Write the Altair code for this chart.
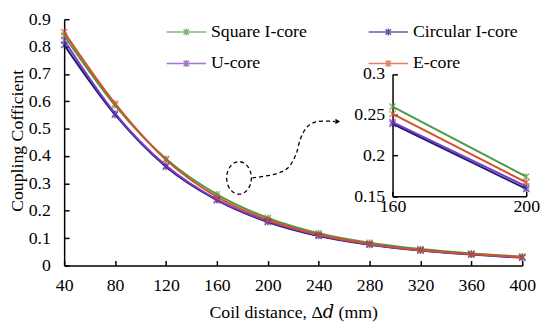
import altair as alt
import pandas as pd

# ---- data ----
distance = [40, 80, 120, 160, 200, 240, 280, 320, 360, 400]
square_i = [0.840, 0.585, 0.390, 0.260, 0.174, 0.118, 0.083, 0.060, 0.044, 0.033]
circular_i = [0.806, 0.551, 0.361, 0.239, 0.159, 0.108, 0.076, 0.055, 0.040, 0.029]
u_core = [0.823, 0.556, 0.365, 0.241, 0.162, 0.110, 0.077, 0.056, 0.041, 0.030]
e_core = [0.853, 0.592, 0.386, 0.251, 0.167, 0.113, 0.079, 0.057, 0.042, 0.031]
# legend is filled column by column: this order gives rows (Square, Circular), (U, E)
series = ["Square I-core", "U-core", "Circular I-core", "E-core"]
colors = ["#4F9A45", "#7B3BBE", "#1C1C78", "#D4512B"]

x_ticks = [40, 80, 120, 160, 200, 240, 280, 320, 360, 400]
y_ticks = [0.0, 0.1, 0.2, 0.3, 0.4, 0.5, 0.6, 0.7, 0.8, 0.9]
inset_x_ticks = [160, 200]
inset_y_ticks = [0.15, 0.2, 0.25, 0.3]

# annotation (dashed ellipse + dashed arrow) in data units
ellipse_x = [177.4]
ellipse_y = [0.320]
arrow_x = [187.9, 206.5, 215.7, 221.9, 225.8, 231.2, 239.0, 253.0]
arrow_y = [0.320, 0.335, 0.356, 0.403, 0.464, 0.508, 0.526, 0.526]
arrow_tip_x = [255.0]
arrow_tip_y = [0.526]

FONT = "Times New Roman, Liberation Serif, DejaVu Serif, serif"
FS = 18
W, H = 465, 250
INSET_X_RANGE = [333.3, 469.0]
INSET_Y_RANGE = [179.7, 55.7]

rows = []
for name, vals in zip(["Square I-core", "Circular I-core", "U-core", "E-core"],
                      [square_i, circular_i, u_core, e_core]):
    for d, k in zip(distance, vals):
        rows.append({"d": d, "k": k, "core": name})
df = pd.DataFrame(rows)
df_inset = df[df["d"].isin(inset_x_ticks)]

ell_df = pd.DataFrame({"d": ellipse_x, "k": ellipse_y})
arr_df = pd.DataFrame({"d": arrow_x, "k": arrow_y, "o": list(range(len(arrow_x)))})
tip_df = pd.DataFrame({"d": arrow_tip_x, "k": arrow_tip_y})

star = "M-1,-1L1,1M-1,1L1,-1M0,-1.1L0,1.1"
legend_sym = "M-1,0L1,0M-0.14,-0.14L0.14,0.14M-0.14,0.14L0.14,-0.14M0,-0.18L0,0.18"
ellipse_path = "M-0.76,0A0.76,1 0 1,0 0.76,0A0.76,1 0 1,0 -0.76,0Z"

color_scale = alt.Scale(domain=series, range=colors)
color = alt.Color(
    "core:N",
    scale=color_scale,
    legend=alt.Legend(
        orient="none", legendX=103, legendY=-8, columns=2, columnPadding=59,
        rowPadding=2, symbolType=legend_sym, symbolSize=1600,
        symbolStrokeWidth=1.5, labelFontSize=FS, labelFont=FONT,
        labelColor="black", labelOffset=4, title=None,
    ),
)

main_x_scale = alt.Scale(domain=[40, 400], nice=False, zero=False)
main_y_scale = alt.Scale(domain=[0, 0.9], nice=False, zero=False)

x_main = alt.X(
    "d:Q", scale=main_x_scale,
    axis=alt.Axis(
        values=x_ticks, ticks=False, grid=False, labelPadding=11,
        labelFlush=False, labelOverlap=False,
        domainColor="black", domainWidth=1.5, labelFontSize=FS,
        labelColor="black", labelFont=FONT,
        title="Coil distance, Δ𝑑 (mm)", titleFont=FONT, titleFontSize=FS,
        titleFontWeight="normal", titleColor="black",
        titleX=232.5, titleY=48, titleBaseline="middle",
    ),
)
y_main = alt.Y(
    "k:Q", scale=main_y_scale,
    axis=alt.Axis(
        values=y_ticks, tickCount=10, ticks=False, grid=False, labelPadding=14,
        labelExpr="format(datum.value, '.1~f')",
        labelFlush=False, labelOverlap=False, labelBound=False,
        domainColor="black", domainWidth=1.5, labelFontSize=FS,
        labelColor="black", labelFont=FONT,
        title="Coupling Cofficient", titleFont=FONT, titleFontSize=FS,
        titleFontWeight="normal", titleColor="black",
        titleX=-47, titleY=123, titleBaseline="middle",
    ),
)

lines = alt.Chart(df).mark_line(strokeWidth=2, interpolate="monotone").encode(
    x=x_main, y=y_main, color=color, detail="core:N"
)
markers = alt.Chart(df).mark_point(shape=star, filled=False, size=40, strokeWidth=1.3).encode(
    x="d:Q", y="k:Q", color=alt.Color("core:N", scale=color_scale)
)
ellipse = alt.Chart(ell_df).mark_point(
    shape=ellipse_path, size=1089, filled=False, color="black",
    strokeDash=[4, 3], strokeWidth=1.3, opacity=1
).encode(x="d:Q", y="k:Q")
arrow = alt.Chart(arr_df).mark_line(
    color="black", strokeDash=[4, 3], strokeWidth=1.3, interpolate="catmull-rom"
).encode(x="d:Q", y="k:Q", order="o:Q")
tip = alt.Chart(tip_df).mark_point(
    shape="triangle-right", filled=True, color="black", size=30, opacity=1
).encode(x="d:Q", y="k:Q")

main = alt.layer(lines, markers, ellipse, arrow, tip)

# inward tick marks for the main axes
main_ticks = alt.Chart(df).mark_point(opacity=0).encode(
    x=alt.X("d:Q", scale=main_x_scale, axis=alt.Axis(
        orient="top", offset=-H, values=x_ticks, labels=False, domain=False,
        grid=False, tickSize=5, tickColor="black", tickWidth=1.5, title=None)),
    y=alt.Y("k:Q", scale=main_y_scale, axis=alt.Axis(
        orient="right", offset=-W, values=y_ticks, labels=False, domain=False,
        grid=False, tickSize=5, tickColor="black", tickWidth=1.5, title=None)),
)

# inset
in_x_scale = alt.Scale(domain=[160, 200], range=INSET_X_RANGE, nice=False, zero=False)
in_y_scale = alt.Scale(domain=[0.15, 0.3], range=INSET_Y_RANGE, nice=False, zero=False)
in_x = alt.X("d:Q", scale=in_x_scale, axis=alt.Axis(
    orient="bottom", offset=-(H - INSET_Y_RANGE[0]), values=inset_x_ticks,
    ticks=False, grid=False, labelPadding=2, labelFlush=False, labelOverlap=False,
    domainColor="black", domainWidth=1.5,
    labelFontSize=FS, labelFont=FONT, labelColor="black", title=None))
in_y = alt.Y("k:Q", scale=in_y_scale, axis=alt.Axis(
    orient="left", offset=-INSET_X_RANGE[0], values=inset_y_ticks,
    labelExpr="format(datum.value, '.2~f')",
    ticks=False, grid=False, labelPadding=8, labelFlush=False, labelOverlap=False,
    domainColor="black", domainWidth=1.5,
    labelFontSize=FS, labelFont=FONT, labelColor="black", title=None))
inset_lines = alt.Chart(df_inset).mark_line(strokeWidth=2).encode(
    x=in_x, y=in_y, color=alt.Color("core:N", scale=color_scale)
)
inset_markers = alt.Chart(df_inset).mark_point(shape=star, filled=False, size=40, strokeWidth=1.3).encode(
    x="d:Q", y="k:Q", color=alt.Color("core:N", scale=color_scale)
)
inset = alt.layer(inset_lines, inset_markers)

inset_ticks = alt.Chart(df_inset).mark_point(opacity=0).encode(
    x=alt.X("d:Q", scale=in_x_scale, axis=alt.Axis(
        orient="top", offset=-INSET_Y_RANGE[0], values=inset_x_ticks, labels=False,
        domain=False, grid=False, tickSize=5, tickColor="black", tickWidth=1.5, title=None)),
    y=alt.Y("k:Q", scale=in_y_scale, axis=alt.Axis(
        orient="right", offset=-(W - INSET_X_RANGE[0]), values=inset_y_ticks, labels=False,
        domain=False, grid=False, tickSize=5, tickColor="black", tickWidth=1.5, title=None)),
)

chart = alt.layer(main, main_ticks, inset, inset_ticks).resolve_scale(
    x="independent", y="independent"
).properties(
    width=W, height=H,
    autosize=alt.AutoSizeParams(type="none"),
    padding={"left": 57, "top": 9, "right": 20, "bottom": 56},
    background="white",
).configure_view(stroke=None).configure_axis(labelOverlap=False, labelFlush=False)

chart.save("out.html", embed_options={"renderer": "svg", "actions": False})
